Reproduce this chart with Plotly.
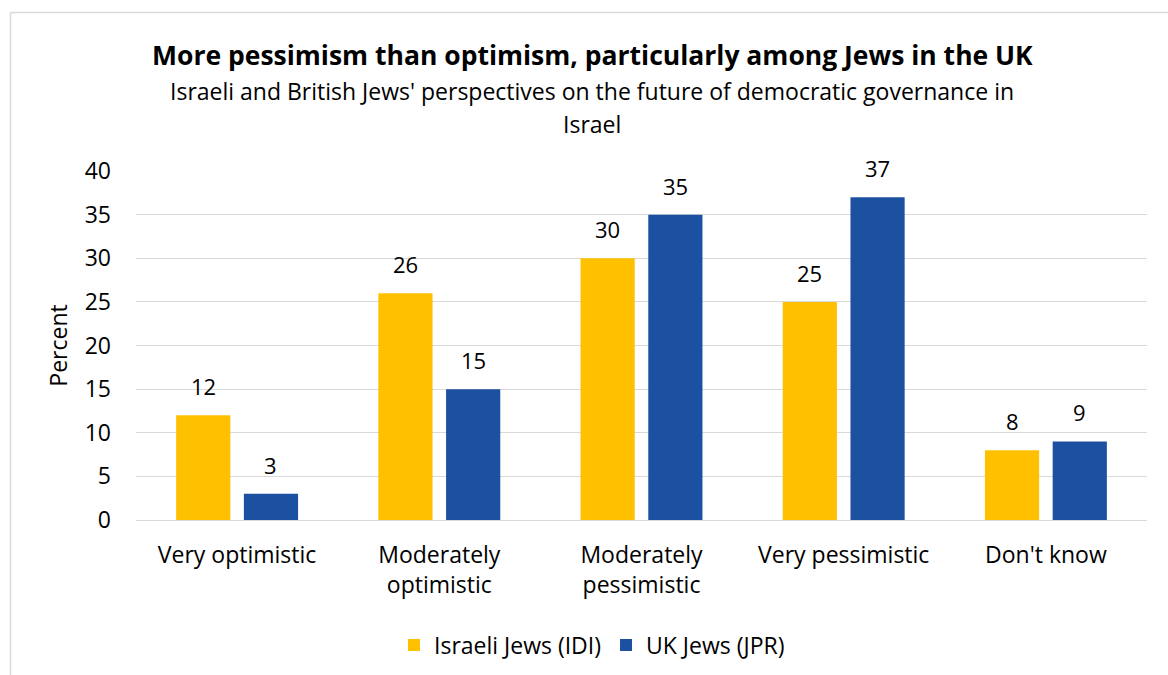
import plotly.graph_objects as go

# ---- data ----
categories = ["Very optimistic", "Moderately optimistic", "Moderately pessimistic",
              "Very pessimistic", "Don't know"]
category_labels = ["Very optimistic", "Moderately<br>optimistic", "Moderately<br>pessimistic",
                   "Very pessimistic", "Don't know"]
israeli_jews = [12, 26, 30, 25, 8]
uk_jews = [3, 15, 35, 37, 9]
series_names = ["Israeli Jews (IDI)", "UK Jews (JPR)"]
y_ticks = [0, 5, 10, 15, 20, 25, 30, 35, 40]

title_text = "More pessimism than optimism, particularly among Jews in the UK"
subtitle_lines = ["Israeli and British Jews' perspectives on the future of democratic governance in",
                  "Israel"]

# ---- style ----
FONT = "'Open Sans', Lato, sans-serif"
colors = ["#FFC000", "#1C51A1"]
grid = "#D9D9D9"
W, H = 1168, 675
L, R, T, B = 136, 21, 171, 155
plot_w = W - L - R
plot_h = H - T - B


def px_to_paper_y(py):
    return (H - B - py) / plot_h


def px_to_paper_x(px):
    return (px - L) / plot_w


fig = go.Figure()
series = [israeli_jews, uk_jews]
for name, vals, col in zip(series_names, series, colors):
    fig.add_trace(go.Bar(x=categories, y=vals, name=name, marker_color=col,
                         marker_line_width=0))

bargap = 0.33
bargroupgap = 0.2
slot_px = plot_w / len(categories) * (1 - bargap) / 2

annotations = []
for i, vals in enumerate(series):
    shift = (i - 0.5) * slot_px
    for c, v in zip(categories, vals):
        annotations.append(dict(x=c, y=v, xref="x", yref="y", text=str(v),
                                showarrow=False, xshift=shift, yshift=12,
                                yanchor="bottom",
                                font=dict(family=FONT, size=22, color="#000000")))

cx = px_to_paper_x(592)
annotations.append(dict(x=cx, y=px_to_paper_y(55), xref="paper", yref="paper",
                        text="<b>" + title_text + "</b>", showarrow=False,
                        xanchor="center", yanchor="middle",
                        font=dict(family=FONT, size=26.5, color="#000000")))
for k, line in enumerate(subtitle_lines):
    annotations.append(dict(x=cx, y=px_to_paper_y(91 + 33 * k), xref="paper", yref="paper",
                            text=line, showarrow=False, xanchor="center", yanchor="middle",
                            font=dict(family=FONT, size=23, color="#000000")))

shapes = [
    dict(type="line", xref="paper", yref="paper",
         x0=px_to_paper_x(10.5), x1=px_to_paper_x(10.5),
         y0=px_to_paper_y(H + 5), y1=px_to_paper_y(12.5),
         line=dict(color=grid, width=1.5)),
    dict(type="line", xref="paper", yref="paper",
         x0=px_to_paper_x(10.5), x1=px_to_paper_x(W + 5),
         y0=px_to_paper_y(12.5), y1=px_to_paper_y(12.5),
         line=dict(color=grid, width=1.5)),
]

fig.update_layout(
    width=W, height=H, autosize=False,
    margin=dict(l=L, r=R, t=T, b=B, pad=0, autoexpand=False),
    paper_bgcolor="white", plot_bgcolor="white",
    barmode="group", bargap=bargap, bargroupgap=bargroupgap,
    font=dict(family=FONT, size=23, color="#000000"),
    showlegend=True,
    legend=dict(orientation="h", x=px_to_paper_x(592), xanchor="center",
                y=px_to_paper_y(645), yanchor="middle",
                font=dict(family=FONT, size=23, color="#000000"),
                traceorder="normal", itemwidth=30),
    annotations=annotations,
    shapes=shapes,
)
fig.update_xaxes(tickvals=categories, ticktext=category_labels, showgrid=False,
                 showline=False, ticks="", ticklabelstandoff=19, automargin=False,
                 tickfont=dict(family=FONT, size=23, color="#000000"))
fig.update_yaxes(range=[0, 40], tickvals=y_ticks, showgrid=True, gridcolor=grid,
                 gridwidth=1, zeroline=True, zerolinecolor=grid, zerolinewidth=1,
                 showline=False, ticks="", ticklabelstandoff=24, automargin=False,
                 tickfont=dict(family=FONT, size=23, color="#000000"),
                 title=dict(text="Percent", standoff=10,
                            font=dict(family=FONT, size=23, color="#000000")))

fig.write_html("out.html")
